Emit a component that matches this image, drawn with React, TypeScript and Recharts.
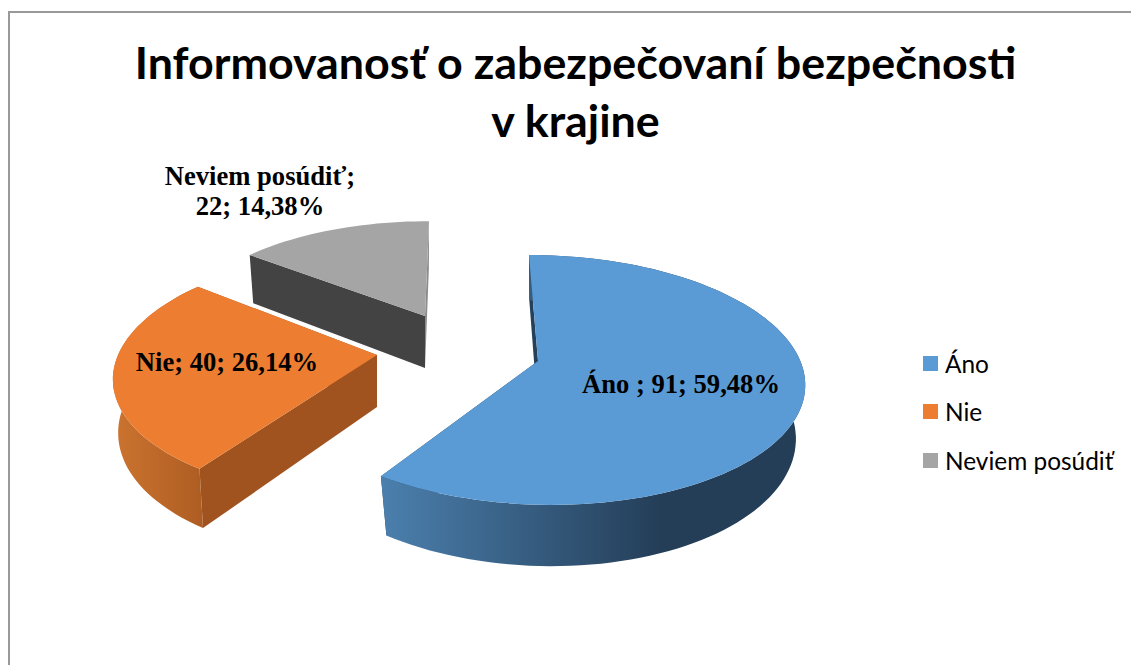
import React from 'react';
import { PieChart, Pie, Cell, Legend } from 'recharts';

const categories = ['Áno', 'Nie', 'Neviem posúdiť'];
const counts = [91, 40, 22];
const colors = ['#5b9bd5', '#ed7d31', '#a5a5a5'];
const labelLines = [
  ['Áno ; 91; 59,48%'],
  ['Nie; 40; 26,14%'],
  ['Neviem posúdiť;', '22; 14,38%'],
];

const tableData = categories.map((name, i) => ({ name, value: counts[i] }));

// per slice view of the tilted pie: explode offset and perspective terms
const sliceViews = [
  { dx: 0, dy: 0, X: 261, E: 10.4, S: 0, F: 122, k: 0.152, g: 0.005, shrink: 0.965 },
  { dx: -161, dy: -6, X: 259, E: -12.5, S: 0, F: 120.5, k: 0.149, g: 0, shrink: 0.98 },
  { dx: -113, dy: -45, X: 243, E: -4.5, S: 0, F: 106, k: 0.118, g: 0, shrink: 0.98 },
];
const sliceLook = [
  { wall: 'url(#blueWall)', startCut: '#254059', endCut: '#254059' },
  { wall: 'url(#orangeWall)', startCut: '#a0531f', endCut: '#a0531f' },
  { wall: 'none', startCut: '#434343', endCut: '#8c8c8c' },
];
const labelSpots = [
  { x: 681, y: 393 },
  { x: 227, y: 371 },
  { x: 260, y: 185 },
];

const DEPTH = 52;

type View = typeof sliceViews[number];

const projectUV = (view: View, cx: number, cy: number, u: number, v: number, bottom: boolean) => {
  const den = 1 - view.k * v - view.g * u;
  const px = (view.X * u + view.E * v) / den;
  const py = (view.S * u + view.F * v) / den;
  const ax = cx + view.dx;
  const ay = cy + view.dy;
  if (!bottom) return [ax + px, ay + py];
  return [ax + px * view.shrink, ay + py + DEPTH / den];
};

const project = (view: View, cx: number, cy: number, deg: number, bottom = false) => {
  const rad = (deg * Math.PI) / 180;
  return projectUV(view, cx, cy, Math.sin(rad), -Math.cos(rad), bottom);
};

const toPath = (pts: number[][]) =>
  pts.map((p, i) => `${i ? 'L' : 'M'}${p[0].toFixed(1)} ${p[1].toFixed(1)}`).join(' ') + ' Z';

const SliceShape = (props: any) => {
  const { cx, cy, startAngle, endAngle, fill, index } = props;
  const view = sliceViews[index];
  const look = sliceLook[index];
  // recharts angles run counter clockwise from east, the view wants clockwise from north
  const from = 90 - startAngle;
  const to = 90 - endAngle;
  const angles: number[] = [];
  for (let a = from; a < to; a += 2) angles.push(a);
  angles.push(to);

  const top = angles.map((a) => project(view, cx, cy, a));
  const low = angles.map((a) => project(view, cx, cy, a, true));
  const apex = projectUV(view, cx, cy, 0, 0, false);
  const apexLow = projectUV(view, cx, cy, 0, 0, true);

  return (
    <g>
      <path d={toPath([top[0], apex, apexLow, low[0]])} fill={look.startCut} />
      <path d={toPath([top[top.length - 1], apex, apexLow, low[low.length - 1]])} fill={look.endCut} />
      <path d={toPath([...top, ...[...low].reverse()])} fill={look.wall} />
      <path d={toPath([apex, ...top])} fill={fill} />
    </g>
  );
};

const renderLabel = (props: any) => {
  const spot = labelSpots[props.index];
  return (
    <text
      key={props.index}
      x={spot.x}
      y={spot.y}
      textAnchor="middle"
      fontFamily="Liberation Serif"
      fontWeight="bold"
      fontSize={26.6}
      fill="#000"
    >
      {labelLines[props.index].map((line, i) => (
        <tspan key={line} x={spot.x} dy={i ? 30 : 0}>
          {line}
        </tspan>
      ))}
    </text>
  );
};

const renderLegend = () => (
  <div style={{ fontFamily: 'Lato', fontSize: 24.4, color: '#000' }}>
    {categories.map((name, i) => (
      <div key={name} style={{ height: 48.5, whiteSpace: 'nowrap', display: 'flex', alignItems: 'center' }}>
        <span style={{ width: 15, height: 15, background: colors[i], marginRight: 7, display: 'inline-block' }} />
        {name}
      </div>
    ))}
  </div>
);

export default function App() {
  return (
    <div style={{ position: 'absolute', left: 0, top: 0, width: 1131, height: 665, background: '#fff', overflow: 'hidden' }}>
      <div style={{ position: 'absolute', left: 8, top: 11, width: 1140, height: 680, borderLeft: '2px solid #999', borderTop: '2px solid #999' }} />
      <div
        style={{
          position: 'absolute',
          left: 0,
          top: 33,
          width: 1151,
          textAlign: 'center',
          fontFamily: 'Lato',
          fontWeight: 'bold',
          fontSize: 44.8,
          lineHeight: '58px',
          color: '#000',
        }}
      >
        Informovanosť o zabezpečovaní bezpečnosti
        <br />v krajine
      </div>
      <PieChart width={1131} height={665} margin={{ top: 0, right: 0, bottom: 0, left: 0 }} style={{ position: 'absolute', left: 0, top: 0 }}>
        <defs>
          <linearGradient id="blueWall" gradientUnits="userSpaceOnUse" x1="383" y1="0" x2="660" y2="0">
            <stop offset="0" stopColor="#4b7fad" />
            <stop offset="1" stopColor="#243e58" />
          </linearGradient>
          <linearGradient id="orangeWall" gradientUnits="userSpaceOnUse" x1="113" y1="0" x2="206" y2="0">
            <stop offset="0" stopColor="#cc7430" />
            <stop offset="1" stopColor="#ad5c22" />
          </linearGradient>
        </defs>
        <Pie
          data={tableData}
          dataKey="value"
          nameKey="name"
          cx={538}
          cy={361}
          outerRadius={250}
          startAngle={90}
          endAngle={-270}
          stroke="none"
          shape={SliceShape}
          label={renderLabel}
          labelLine={false}
          isAnimationActive={false}
        >
          {tableData.map((entry, i) => (
            <Cell key={entry.name} fill={colors[i]} />
          ))}
        </Pie>
        <Legend
          layout="vertical"
          align="right"
          verticalAlign="top"
          content={renderLegend}
          wrapperStyle={{ left: 923, top: 339, width: 208, right: 'auto' }}
        />
      </PieChart>
    </div>
  );
}
